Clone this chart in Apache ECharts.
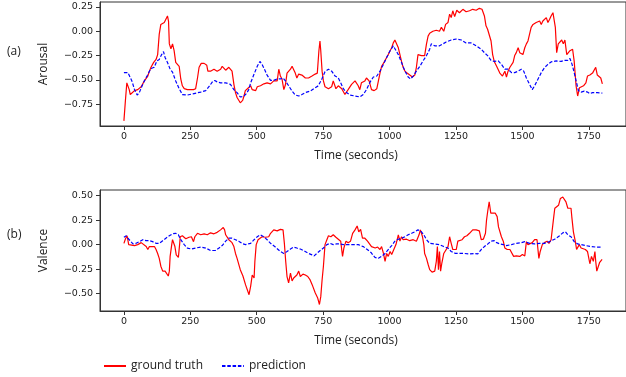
<!DOCTYPE html>
<html>
<head>
<meta charset="utf-8">
<script src="https://cdn.jsdelivr.net/npm/echarts@6/dist/echarts.min.js"></script>
<style>
  html, body { margin: 0; padding: 0; background: #fff; }
  #chart { width: 626px; height: 377px; }
</style>
</head>
<body>
<div id="chart"></div>
<script>
// time ticks shared by both panels
const timeTicks = [0, 250, 500, 750, 1000, 1250, 1500, 1750];
const arousalTicks = [-0.75, -0.5, -0.25, 0, 0.25];
const valenceTicks = [-0.5, -0.25, 0, 0.25, 0.5];

// (a) arousal, [seconds, value]
const arousalTruth = [[0,-0.92],[6,-0.7],[11,-0.53],[15,-0.51],[20,-0.6],[24,-0.65],[31,-0.665],[40,-0.61],[52,-0.6],[65,-0.57],[72,-0.55],[77,-0.51],[84,-0.5],[90,-0.46],[96,-0.41],[102,-0.37],[112,-0.32],[121,-0.29],[127,-0.24],[133,-0.03],[139,0.07],[145,0.06],[152,0.09],[158,0.07],[164,0.157],[168,0.1],[171,-0.13],[177,-0.18],[183,-0.13],[189,-0.2],[195,-0.32],[201,-0.33],[208,-0.36],[214,-0.49],[220,-0.56],[227,-0.59],[239,-0.6],[251,-0.6],[262,-0.6],[270,-0.59],[277,-0.48],[283,-0.37],[291,-0.33],[302,-0.33],[312,-0.35],[316,-0.41],[326,-0.41],[339,-0.39],[351,-0.41],[364,-0.39],[370,-0.36],[377,-0.38],[383,-0.4],[395,-0.37],[401,-0.39],[407,-0.41],[414,-0.545],[420,-0.63],[426,-0.68],[438,-0.735],[447,-0.71],[452,-0.665],[457,-0.61],[465,-0.59],[471,-0.573],[477,-0.56],[483,-0.6],[490,-0.59],[496,-0.61],[502,-0.57],[514,-0.56],[527,-0.54],[539,-0.53],[552,-0.54],[564,-0.51],[577,-0.51],[583,-0.39],[589,-0.46],[595,-0.49],[602,-0.6],[608,-0.55],[614,-0.43],[620,-0.45],[627,-0.39],[633,-0.36],[639,-0.36],[645,-0.43],[651,-0.48],[658,-0.44],[664,-0.43],[670,-0.45],[683,-0.48],[695,-0.48],[708,-0.46],[720,-0.44],[728,-0.43],[734,-0.2],[738,-0.1],[741,-0.2],[746,-0.41],[751,-0.51],[757,-0.57],[770,-0.59],[782,-0.57],[788,-0.51],[798,-0.59],[807,-0.56],[820,-0.59],[832,-0.65],[844,-0.6],[857,-0.545],[870,-0.51],[876,-0.49],[882,-0.56],[888,-0.6],[894,-0.53],[901,-0.54],[907,-0.51],[913,-0.48],[923,-0.51],[932,-0.6],[942,-0.61],[952,-0.59],[958,-0.51],[964,-0.43],[970,-0.36],[977,-0.33],[983,-0.33],[989,-0.27],[995,-0.24],[1002,-0.2],[1008,-0.17],[1014,-0.12],[1020,-0.09],[1027,-0.1],[1033,-0.17],[1039,-0.24],[1045,-0.31],[1051,-0.37],[1058,-0.41],[1066,-0.43],[1076,-0.45],[1086,-0.47],[1095,-0.45],[1101,-0.37],[1107,-0.24],[1114,-0.23],[1120,-0.25],[1126,-0.27],[1132,-0.25],[1139,-0.13],[1145,-0.05],[1151,-0.02],[1163,0.0],[1176,0.01],[1188,0.0],[1195,0.04],[1204,0.0],[1211,0.07],[1220,0.09],[1226,0.175],[1232,0.14],[1238,0.21],[1245,0.15],[1253,0.215],[1263,0.19],[1276,0.225],[1288,0.2],[1301,0.21],[1313,0.225],[1326,0.215],[1338,0.235],[1348,0.225],[1357,0.157],[1363,0.055],[1369,0.02],[1375,0.0],[1382,-0.1],[1388,-0.24],[1394,-0.31],[1403,-0.36],[1415,-0.43],[1425,-0.46],[1434,-0.41],[1440,-0.47],[1446,-0.41],[1453,-0.37],[1459,-0.39],[1465,-0.32],[1471,-0.25],[1477,-0.22],[1484,-0.17],[1490,-0.22],[1496,-0.22],[1502,-0.24],[1509,-0.17],[1515,-0.13],[1521,-0.1],[1527,-0.12],[1533,0.04],[1540,0.07],[1552,0.09],[1565,0.105],[1571,0.07],[1577,0.105],[1583,0.12],[1590,0.14],[1596,0.09],[1602,0.12],[1608,0.157],[1615,0.19],[1621,0.2],[1624,0.04],[1629,-0.22],[1635,-0.13],[1641,-0.145],[1648,-0.09],[1654,-0.13],[1660,-0.09],[1667,-0.24],[1674,-0.25],[1679,-0.2],[1689,-0.185],[1695,-0.31],[1702,-0.56],[1708,-0.665],[1715,-0.58],[1721,-0.56],[1730,-0.56],[1739,-0.53],[1745,-0.46],[1754,-0.45],[1764,-0.43],[1770,-0.45],[1776,-0.37],[1782,-0.45],[1788,-0.43],[1795,-0.48],[1801,-0.54]];

const arousalPred = [[0,-0.425],[15,-0.425],[21,-0.425],[30,-0.51],[40,-0.6],[50,-0.655],[58,-0.63],[67,-0.57],[77,-0.51],[87,-0.46],[96,-0.41],[105,-0.38],[114,-0.37],[124,-0.305],[133,-0.29],[142,-0.24],[149,-0.21],[155,-0.27],[164,-0.32],[174,-0.39],[183,-0.42],[195,-0.51],[208,-0.59],[220,-0.65],[239,-0.655],[264,-0.64],[289,-0.625],[308,-0.61],[320,-0.57],[333,-0.52],[342,-0.505],[351,-0.52],[364,-0.53],[383,-0.53],[401,-0.545],[414,-0.6],[426,-0.63],[438,-0.675],[451,-0.67],[461,-0.64],[470,-0.6],[477,-0.53],[490,-0.44],[502,-0.36],[512,-0.31],[520,-0.34],[529,-0.39],[539,-0.45],[552,-0.505],[564,-0.505],[577,-0.49],[589,-0.49],[599,-0.48],[608,-0.51],[620,-0.56],[633,-0.615],[645,-0.655],[658,-0.665],[670,-0.65],[683,-0.63],[701,-0.615],[720,-0.58],[732,-0.56],[745,-0.49],[757,-0.415],[770,-0.39],[782,-0.41],[795,-0.46],[807,-0.48],[816,-0.53],[826,-0.59],[838,-0.63],[851,-0.655],[870,-0.665],[888,-0.675],[901,-0.65],[913,-0.6],[927,-0.52],[939,-0.47],[952,-0.46],[964,-0.41],[977,-0.34],[989,-0.27],[1002,-0.2],[1014,-0.15],[1020,-0.17],[1033,-0.24],[1045,-0.32],[1058,-0.41],[1070,-0.47],[1079,-0.49],[1089,-0.46],[1101,-0.41],[1114,-0.36],[1126,-0.305],[1139,-0.25],[1151,-0.185],[1157,-0.13],[1170,-0.15],[1188,-0.15],[1201,-0.13],[1213,-0.11],[1232,-0.09],[1251,-0.08],[1270,-0.09],[1288,-0.12],[1307,-0.12],[1326,-0.15],[1345,-0.185],[1357,-0.22],[1369,-0.25],[1382,-0.3],[1394,-0.31],[1409,-0.305],[1421,-0.34],[1434,-0.39],[1446,-0.39],[1459,-0.425],[1471,-0.425],[1484,-0.41],[1496,-0.39],[1505,-0.41],[1515,-0.48],[1527,-0.545],[1537,-0.6],[1546,-0.56],[1558,-0.495],[1571,-0.425],[1583,-0.375],[1596,-0.34],[1608,-0.315],[1627,-0.305],[1646,-0.31],[1658,-0.3],[1671,-0.3],[1679,-0.28],[1687,-0.34],[1695,-0.425],[1704,-0.53],[1711,-0.61],[1721,-0.625],[1733,-0.615],[1745,-0.625],[1754,-0.64],[1764,-0.63],[1782,-0.63],[1801,-0.635]];

// (b) valence, [seconds, value]
const valenceTruth = [[0,0.013],[6,0.06],[12,0.09],[18,0.0],[25,-0.01],[40,-0.01],[52,0.0],[65,0.02],[71,0.0],[84,-0.02],[90,-0.05],[96,-0.02],[102,-0.035],[115,-0.02],[121,-0.05],[127,-0.09],[133,-0.14],[139,-0.22],[146,-0.27],[155,-0.27],[162,-0.255],[167,-0.32],[171,-0.27],[174,-0.12],[180,0.0],[183,0.05],[187,0.065],[192,-0.02],[197,-0.105],[205,-0.13],[210,0.01],[212,0.08],[220,0.09],[233,0.06],[245,0.075],[254,0.08],[262,0.03],[267,0.08],[277,0.115],[289,0.1],[302,0.11],[314,0.1],[326,0.12],[339,0.11],[351,0.125],[364,0.15],[374,0.175],[379,0.15],[383,0.1],[389,0.08],[395,0.05],[401,0.055],[407,0.02],[414,-0.02],[420,-0.09],[426,-0.14],[438,-0.255],[448,-0.32],[452,-0.31],[458,-0.41],[465,-0.425],[471,-0.51],[477,-0.425],[483,-0.31],[490,-0.34],[493,-0.17],[498,0.0],[505,0.05],[512,0.065],[520,0.08],[533,0.075],[545,0.08],[552,0.115],[564,0.15],[577,0.14],[589,0.155],[599,0.15],[604,0.013],[609,-0.17],[614,-0.325],[620,-0.39],[627,-0.29],[633,-0.37],[639,-0.34],[645,-0.36],[651,-0.31],[658,-0.27],[664,-0.325],[674,-0.3],[683,-0.31],[692,-0.325],[701,-0.36],[711,-0.425],[720,-0.49],[729,-0.54],[736,-0.61],[741,-0.53],[746,-0.36],[751,-0.22],[757,0.0],[764,0.05],[770,0.09],[779,0.08],[788,0.1],[798,0.075],[807,0.055],[816,0.035],[823,-0.12],[828,-0.035],[836,0.035],[844,0.02],[853,0.035],[861,0.115],[870,0.15],[878,0.19],[884,0.13],[891,0.155],[898,0.065],[907,0.065],[917,0.035],[924,0.05],[932,-0.02],[937,-0.02],[946,-0.035],[955,-0.025],[964,-0.05],[970,-0.02],[977,-0.09],[983,-0.17],[989,-0.09],[995,-0.12],[1002,-0.07],[1008,-0.1],[1014,-0.09],[1024,0.0],[1033,0.1],[1039,0.035],[1045,0.08],[1051,0.05],[1064,0.055],[1076,0.04],[1089,0.05],[1101,0.035],[1111,0.1],[1116,0.15],[1120,0.165],[1124,0.08],[1129,0.0],[1132,-0.09],[1139,-0.14],[1145,-0.2],[1151,-0.255],[1160,-0.28],[1170,-0.27],[1176,-0.17],[1180,-0.02],[1184,-0.255],[1188,-0.07],[1192,-0.27],[1197,-0.185],[1204,-0.09],[1211,-0.1],[1220,-0.02],[1226,0.08],[1232,0.013],[1238,-0.05],[1245,-0.07],[1251,-0.05],[1257,0.035],[1263,0.055],[1273,0.05],[1282,0.08],[1291,0.09],[1301,0.115],[1313,0.15],[1326,0.15],[1338,0.14],[1345,0.05],[1353,0.055],[1361,0.115],[1365,0.25],[1370,0.35],[1375,0.435],[1381,0.32],[1388,0.3],[1398,0.32],[1405,0.285],[1410,0.18],[1415,0.18],[1421,0.08],[1428,0.035],[1434,-0.035],[1443,-0.05],[1453,-0.05],[1459,-0.07],[1467,-0.12],[1477,-0.115],[1490,-0.12],[1500,-0.1],[1509,-0.115],[1515,0.03],[1521,0.0],[1527,0.013],[1537,0.02],[1546,0.05],[1555,0.05],[1558,-0.035],[1562,-0.14],[1567,-0.07],[1575,0.0],[1583,0.02],[1593,0.035],[1600,0.013],[1608,0.05],[1615,0.065],[1618,0.283],[1622,0.37],[1629,0.35],[1636,0.4],[1643,0.47],[1652,0.485],[1659,0.49],[1664,0.435],[1671,0.37],[1677,0.38],[1683,0.37],[1686,0.283],[1692,0.13],[1699,0.035],[1704,-0.05],[1709,-0.035],[1714,0.0],[1721,-0.035],[1727,-0.02],[1737,-0.05],[1745,-0.07],[1754,-0.195],[1760,-0.12],[1767,-0.17],[1773,-0.07],[1776,-0.17],[1780,-0.27],[1786,-0.22],[1791,-0.18],[1796,-0.16],[1800,-0.15]];

const valencePred = [[0,0.075],[9,0.09],[15,0.065],[25,0.035],[34,0.007],[46,0.013],[58,0.03],[71,0.05],[84,0.04],[96,0.04],[108,0.03],[121,0.013],[133,0.013],[146,0.04],[158,0.065],[171,0.09],[183,0.11],[195,0.115],[205,0.1],[214,0.05],[227,0.0],[239,-0.035],[254,-0.045],[270,-0.035],[289,-0.025],[308,-0.035],[326,-0.06],[345,-0.06],[358,-0.035],[370,-0.01],[383,0.035],[395,0.065],[407,0.065],[420,0.05],[432,0.035],[448,0.007],[458,0.0],[465,-0.02],[477,0.013],[490,0.05],[502,0.08],[514,0.1],[527,0.08],[539,0.05],[552,0.013],[570,-0.025],[589,-0.07],[602,-0.09],[614,-0.07],[627,-0.045],[639,-0.025],[651,-0.035],[664,-0.045],[676,-0.06],[695,-0.09],[708,-0.105],[716,-0.115],[726,-0.09],[739,-0.06],[751,-0.035],[764,0.0],[776,0.013],[788,0.0],[801,0.007],[813,0.007],[826,0.0],[844,0.0],[863,0.0],[882,0.0],[901,-0.02],[916,-0.05],[930,-0.08],[937,-0.105],[945,-0.13],[958,-0.14],[970,-0.12],[983,-0.09],[995,-0.05],[1008,-0.01],[1020,0.035],[1033,0.055],[1045,0.065],[1058,0.08],[1070,0.1],[1083,0.115],[1095,0.13],[1107,0.15],[1120,0.13],[1129,0.1],[1139,0.05],[1151,0.013],[1170,0.007],[1188,0.0],[1204,-0.02],[1220,-0.035],[1232,-0.07],[1248,-0.09],[1263,-0.09],[1282,-0.09],[1301,-0.095],[1320,-0.09],[1332,-0.095],[1345,-0.05],[1357,-0.02],[1370,0.007],[1382,0.035],[1394,0.04],[1403,0.02],[1415,0.007],[1428,0.0],[1440,-0.01],[1459,0.0],[1477,0.013],[1496,0.02],[1509,0.03],[1527,0.013],[1546,0.007],[1565,0.013],[1583,0.013],[1602,0.03],[1621,0.055],[1640,0.09],[1652,0.12],[1662,0.13],[1671,0.1],[1683,0.08],[1695,0.03],[1708,0.007],[1721,0.0],[1739,-0.01],[1758,-0.02],[1776,-0.025],[1798,-0.025]];

const chart = echarts.init(document.getElementById('chart'));

const tickFont = {fontFamily: 'DejaVu Sans', fontSize: 9.5, color: '#222'};
const nameFont = {fontFamily: 'Open Sans', fontSize: 12, color: '#222'};
const axisColor = '#333';

function fmt(v) {
    return (v < 0 ? '\u2212' : '') + Math.abs(v).toFixed(2);
}

function xAxis(gridIndex) {
    return {
        type: 'value',
        gridIndex: gridIndex,
        min: -90,
        max: 1890,
        name: 'Time (seconds)',
        nameLocation: 'middle',
        nameGap: 24,
        nameTextStyle: Object.assign({padding: [0, 14, 0, 0]}, nameFont),
        axisLine: {show: true, onZero: false, lineStyle: {color: axisColor}},
        axisTick: {show: true, length: 4, customValues: timeTicks, lineStyle: {color: axisColor}},
        axisLabel: Object.assign({customValues: timeTicks, margin: 6, formatter: v => String(v)}, tickFont),
        splitLine: {show: false}
    };
}

function yAxis(gridIndex, name, min, max, ticks) {
    return {
        type: 'value',
        gridIndex: gridIndex,
        min: min,
        max: max,
        name: name,
        nameLocation: 'middle',
        nameGap: 50,
        nameTextStyle: nameFont,
        axisLine: {show: true, onZero: false, lineStyle: {color: axisColor}},
        axisTick: {show: true, length: 4, customValues: ticks, lineStyle: {color: axisColor}},
        axisLabel: Object.assign({customValues: ticks, margin: 7, formatter: fmt}, tickFont),
        splitLine: {show: false}
    };
}

function line(name, data, idx, color, dashed) {
    return {
        name: name,
        type: 'line',
        xAxisIndex: idx,
        yAxisIndex: idx,
        data: data,
        symbol: 'none',
        animation: false,
        lineStyle: {color: color, width: 1.2, type: dashed ? [3.5, 1.8] : 'solid'},
        itemStyle: {color: color}
    };
}

chart.setOption({
    backgroundColor: '#fff',
    animation: false,
    grid: [
        {left: 100, top: 2, width: 530, height: 124, show: true, borderColor: axisColor, borderWidth: 1},
        {left: 100, top: 190, width: 530, height: 121, show: true, borderColor: axisColor, borderWidth: 1}
    ],
    xAxis: [xAxis(0), xAxis(1)],
    yAxis: [
        yAxis(0, 'Arousal', -0.973, 0.30, arousalTicks),
        yAxis(1, 'Valence', -0.676, 0.556, valenceTicks)
    ],
    legend: {
        data: ['ground truth', 'prediction'],
        left: 98,
        top: 355,
        itemWidth: 22,
        itemHeight: 10,
        itemGap: 18,
        itemStyle: {opacity: 0},
        textStyle: nameFont
    },
    graphic: [
        {type: 'text', left: 7, top: 46, style: {text: '(a)', font: '12px "Open Sans"', fill: '#222'}},
        {type: 'text', left: 7, top: 229, style: {text: '(b)', font: '12px "Open Sans"', fill: '#222'}}
    ],
    series: [
        line('ground truth', arousalTruth, 0, '#ff0000', false),
        line('prediction', arousalPred, 0, '#0000ff', true),
        line('ground truth', valenceTruth, 1, '#ff0000', false),
        line('prediction', valencePred, 1, '#0000ff', true)
    ]
});
</script>
</body>
</html>
